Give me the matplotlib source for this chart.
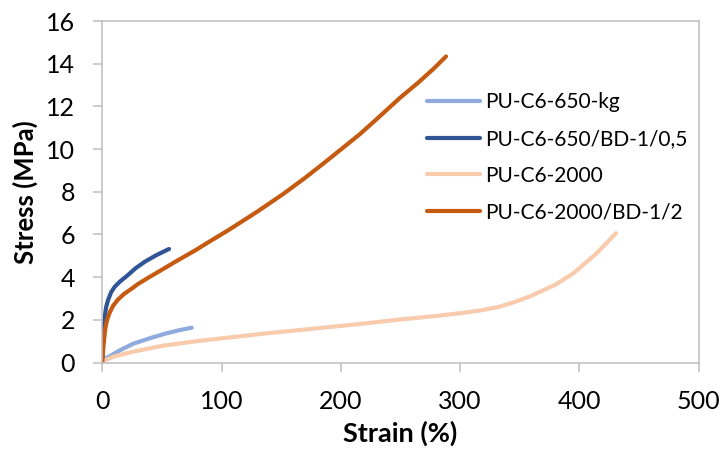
import matplotlib
matplotlib.use("Agg")
import matplotlib.pyplot as plt

# Data
labels = ["PU-C6-650-kg", "PU-C6-650/BD-1/0,5", "PU-C6-2000", "PU-C6-2000/BD-1/2"]

strain_650kg = [0, 1, 6.5, 15, 26, 40, 54, 65, 75]
stress_650kg = [0, 0.15, 0.3, 0.58, 0.88, 1.14, 1.37, 1.52, 1.63]

strain_650bd = [0, 0.7, 1.3, 2.1, 3.3, 4.9, 7.5, 10.5, 15, 21.6, 28, 35.9, 45, 56]
stress_650bd = [0, 1.05, 1.6, 2.15, 2.6, 2.93, 3.3, 3.55, 3.8, 4.1, 4.42, 4.73, 5.02, 5.32]

strain_2000 = [0, 3, 10.7, 26, 50, 82, 111, 138, 165, 193.7, 220, 247, 283, 302.7,
               318, 332, 345, 358.6, 380, 395, 414.5, 430.7]
stress_2000 = [0, 0.12, 0.3, 0.51, 0.78, 1.02, 1.2, 1.37, 1.52, 1.68, 1.83, 2.0, 2.2, 2.33,
               2.45, 2.6, 2.82, 3.1, 3.65, 4.18, 5.12, 6.06]

strain_2000bd = [0, 0.7, 1.5, 2.6, 4, 6.3, 9, 13.2, 18, 24.4, 30, 40, 49.8, 60, 77.8, 90,
                 105.7, 115.5, 130, 151.8, 170, 185.3, 200, 216, 230, 249.6, 265, 277.5, 288.2]
stress_2000bd = [0, 0.55, 1.05, 1.6, 1.98, 2.35, 2.65, 2.95, 3.2, 3.45, 3.68, 4.02, 4.34, 4.68,
                 5.25, 5.67, 6.2, 6.55, 7.07, 7.9, 8.65, 9.32, 9.98, 10.7, 11.4, 12.4, 13.12,
                 13.75, 14.34]

colors = ["#8FAADC", "#2F5597", "#F8CBAD", "#C55A11"]

x_ticks = [0, 100, 200, 300, 400, 500]
y_ticks = [0, 2, 4, 6, 8, 10, 12, 14, 16]

plt.rcParams['font.family'] = ['Lato', 'DejaVu Sans']

fig = plt.figure(figsize=(7.22, 4.54), dpi=100)
ax = fig.add_axes([0.1416, 0.2015, 0.8261, 0.7522])

series = [(strain_650kg, stress_650kg), (strain_650bd, stress_650bd),
          (strain_2000, stress_2000), (strain_2000bd, stress_2000bd)]
for (xs, ys), c, lab in zip(series, colors, labels):
    ax.plot(xs, ys, color=c, lw=3.0, label=lab, solid_capstyle='round',
            solid_joinstyle='round')

ax.set_xlim(0, 500)
ax.set_ylim(0, 16)
ax.set_xticks(x_ticks)
ax.set_yticks(y_ticks)

grey = "#BFBFBF"
for s in ax.spines.values():
    s.set_color(grey)
    s.set_linewidth(1.1)
ax.tick_params(axis='both', direction='out', length=6.5, width=1.1, color=grey,
               labelsize=18, labelcolor='black', pad=13)

ax.set_xlabel("Strain (%)", fontsize=19.5, fontweight='bold', labelpad=6)
ax.set_ylabel("Stress (MPa)", fontsize=18.5, fontweight='bold', labelpad=6)

leg = ax.legend(loc='upper left', bbox_to_anchor=(0.5445, 0.791), frameon=False,
                fontsize=15, borderpad=0, borderaxespad=0, handlelength=2.55,
                handletextpad=0.25, labelspacing=0.8)

fig.savefig("out.png", dpi=100, facecolor='white')
